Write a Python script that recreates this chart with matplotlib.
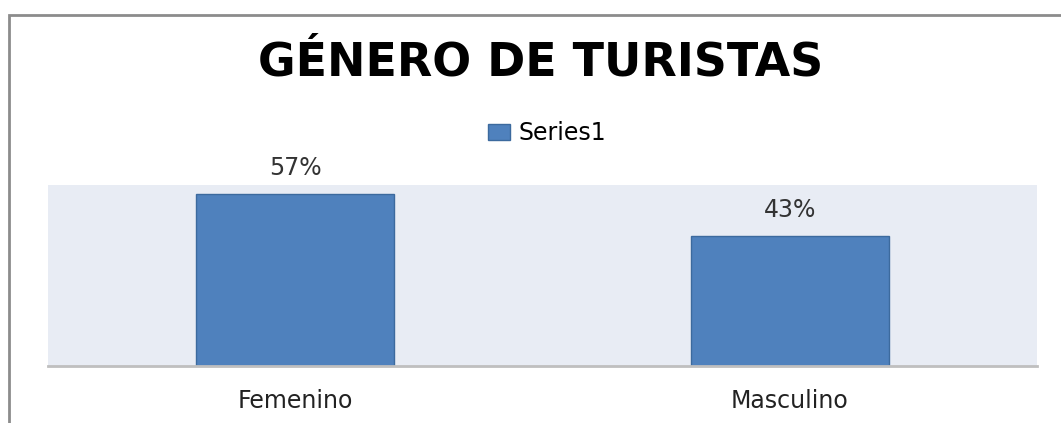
import matplotlib
matplotlib.use("Agg")
import matplotlib.pyplot as plt
from matplotlib.patches import Rectangle
import numpy as np

categories = ["Femenino", "Masculino"]
values = [0.57, 0.43]
series_name = "Series1"
title = "GÉNERO DE TURISTAS"

W, H = 1061, 423
fig = plt.figure(figsize=(W / 100, H / 100), dpi=100)
fig.patch.set_facecolor("white")

# outer chart border (cut off at right/bottom like the screenshot)
fig.patches.append(Rectangle((9 / W, -0.1), 1.2, (H - 15) / H + 0.1,
                             transform=fig.transFigure, fill=False,
                             edgecolor="#8c8c8c", linewidth=2))

ax = fig.add_axes([48 / W, (H - 366) / H, (1037 - 48) / W, (366 - 185) / H])
ax.set_facecolor("#e8ecf4")

x = np.arange(len(categories))
bars = ax.bar(x, values, width=0.4, color="#4f81bd", edgecolor="#3c6a9e",
              linewidth=1, label=series_name, zorder=2)

ax.set_xlim(-0.5, len(categories) - 0.5)
ax.set_ylim(0, 0.6)
ax.set_yticks([])
ax.set_xticks(x)
ax.set_xticklabels(categories, fontsize=17, color="#222222")
ax.tick_params(axis="x", length=0, pad=16.5)
for s in ["top", "left", "right"]:
    ax.spines[s].set_visible(False)
ax.spines["bottom"].set_color("#bfbfbf")
ax.spines["bottom"].set_linewidth(2)

for b, v in zip(bars, values):
    ax.annotate("{:.0f}%".format(v * 100), (b.get_x() + b.get_width() / 2, v),
                xytext=(0, 10), textcoords="offset points", ha="center",
                va="bottom", fontsize=17, color="#333333")

fig.text(541 / W, 1 - 63 / H, title, ha="center", va="center",
         fontsize=33, fontweight="bold", color="black")

fig.legend(loc="center", bbox_to_anchor=(547 / W, 1 - 133 / H), frameon=False,
           fontsize=17, handlelength=0.93, handleheight=0.64, handletextpad=0.38,
           borderpad=0, borderaxespad=0)

fig.savefig("out.png", dpi=100)
